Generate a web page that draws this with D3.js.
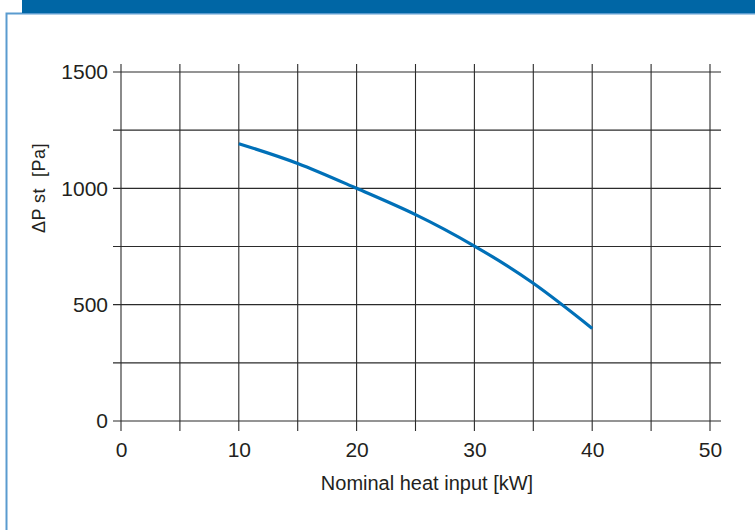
<!DOCTYPE html>
<html lang="en">
<head>
    <meta charset="UTF-8">
    <title>Nominal heat input vs static pressure</title>
    <script src="https://d3js.org/d3.v7.min.js"></script>
    <style>
        body { margin: 0; background: #fff; }
        text { font-family: "Liberation Sans", Arial, Helvetica, sans-serif; fill: #231f20; }
    </style>
</head>
<body>
    <div id="chart"></div>
    <script>
        // curve
        const heatInput = [10, 15, 20, 25, 30, 35, 40];
        const pressure = [1192, 1107, 1000, 887, 752, 592, 398];

        const xTicks = [0, 10, 20, 30, 40, 50];
        const yTicks = [0, 500, 1000, 1500];
        const xGrid = d3.range(0, 51, 5);
        const yGrid = d3.range(0, 1501, 250);

        const width = 755, height = 530;

        const svg = d3.select("#chart").append("svg")
            .attr("width", width)
            .attr("height", height);

        // frame and top bar
        svg.append("path")
            .attr("d", `M6.5,${height} V13.5 H${width}`)
            .attr("fill", "none")
            .attr("stroke", "#5a9bcf")
            .attr("stroke-width", 2);
        svg.append("rect")
            .attr("x", 22).attr("y", 0)
            .attr("width", width - 22).attr("height", 13)
            .attr("fill", "#0066a5");

        const x = d3.scaleLinear().domain([0, 50]).range([121, 710]);
        const y = d3.scaleLinear().domain([0, 1500]).range([421, 72]);

        // grid lines stick out a little past the axes
        const grid = svg.append("g")
            .attr("stroke", "#2b2b2b")
            .attr("stroke-width", 1.1);
        grid.selectAll(".v").data(xGrid).enter().append("line")
            .attr("x1", d => x(d)).attr("x2", d => x(d))
            .attr("y1", y(1500) - 8).attr("y2", y(0) + 10);
        grid.selectAll(".h").data(yGrid).enter().append("line")
            .attr("y1", d => y(d)).attr("y2", d => y(d))
            .attr("x1", x(0) - 8).attr("x2", x(50) + 11);

        // tick labels via axes, no lines
        const xAxis = svg.append("g")
            .attr("transform", `translate(0,${y(0)})`)
            .call(d3.axisBottom(x).tickValues(xTicks).tickFormat(d3.format("d"))
                .tickSize(0).tickPadding(21));
        const yAxis = svg.append("g")
            .attr("transform", `translate(${x(0)},0)`)
            .call(d3.axisLeft(y).tickValues(yTicks).tickFormat(d3.format("d"))
                .tickSize(0).tickPadding(13));
        [xAxis, yAxis].forEach(a => {
            a.select(".domain").remove();
            a.selectAll("text")
                .attr("font-family", null)
                .style("font-size", "21px")
                .attr("fill", "#231f20");
        });

        // the curve
        const line = d3.line()
            .x(d => x(d[0]))
            .y(d => y(d[1]))
            .curve(d3.curveNatural);
        svg.append("path")
            .datum(d3.zip(heatInput, pressure))
            .attr("d", line)
            .attr("fill", "none")
            .attr("stroke", "#0070b8")
            .attr("stroke-width", 3.2);

        // axis titles
        svg.append("text")
            .attr("x", 427).attr("y", 490)
            .attr("text-anchor", "middle")
            .style("font-size", "20px")
            .text("Nominal heat input [kW]");
        svg.append("text")
            .attr("transform", "translate(45,188) rotate(-90)")
            .attr("text-anchor", "middle")
            .style("font-size", "18px")
            .style("letter-spacing", "0.5px")
            .style("white-space", "pre")
            .text("\u0394P st  [Pa]");
    </script>
</body>
</html>
